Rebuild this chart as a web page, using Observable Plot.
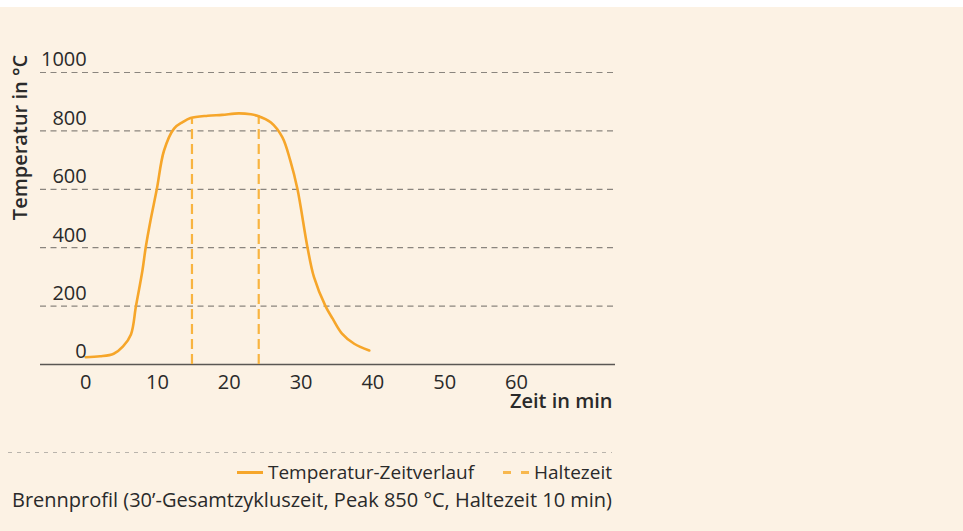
<!DOCTYPE html>
<html>
<head>
<meta charset="utf-8">
<script src="https://cdn.jsdelivr.net/npm/d3@7"></script>
<script src="https://cdn.jsdelivr.net/npm/@observablehq/plot@0.6"></script>
<style>
  html, body { margin: 0; padding: 0; background: #ffffff; }
  #wrap { position: relative; margin-top: 7px; width: 963px; height: 524px; background: #fcf2e4;
          font-family: "Open Sans", "Noto Sans", sans-serif; color: #2a2a2a; overflow: hidden; }
  #chart { position: absolute; left: 0; top: 0; }
  #sep { position: absolute; left: 8px; top: 445px; width: 604px; height: 1px;
         background: repeating-linear-gradient(to right, #b9b4ac 0 4px, transparent 4px 9px); }
  #legend { position: absolute; right: 351px; top: 452px; display: flex; align-items: center;
            font-size: 19px; line-height: 26px; white-space: nowrap; }
  .sw { display: inline-block; width: 26px; height: 3px; margin-right: 5px; }
  .sw.solid { background: #f6a62a; }
  .sw.dash { margin-left: 29px; background: linear-gradient(to right, #f8b84e 0 8px, transparent 8px 18px, #f8b84e 18px 26px); }
  #caption { position: absolute; right: 351px; top: 480px; font-size: 20px; line-height: 26px; white-space: nowrap; }
</style>
</head>
<body>
<div id="wrap">
  <div id="chart"></div>
  <div id="sep"></div>
  <div id="legend"><span class="sw solid"></span><span>Temperatur-Zeitverlauf</span><span class="sw dash"></span><span>Haltezeit</span></div>
  <div id="caption">Brennprofil (30’-Gesamtzykluszeit, Peak 850 °C, Haltezeit 10 min)</div>
</div>
<script>
// Temperature-time profile (time in min, temperature in °C)
const timeMin = [0, 2, 3.9, 5.2, 6.3, 7.0, 7.9, 8.35, 9.0, 9.9, 10.9, 12.3, 13.5, 14.6, 17, 19, 21.3, 23, 23.9, 25.8, 27.4, 28.5, 29.5, 30.9, 31.8, 33.4, 34.4, 35.7, 37.4, 39.5];
const tempC   = [25, 28, 37, 62, 103, 200, 322, 400, 490, 600, 732, 808, 830, 844, 852, 855, 860, 857, 852, 829, 778, 698, 600, 400, 299, 200, 157, 106, 71, 48];
// Haltezeit markers
const holdTimes = [14.8, 24.1];
const holdTops = [841, 852];
// Ticks
const yTicks = [0, 200, 400, 600, 800, 1000];
const xTicks = [0, 10, 20, 30, 40, 50, 60];

const curve = timeMin.map((t, i) => ({t, T: tempC[i]}));
const holds = holdTimes.map((t, i) => ({t, top: holdTops[i]}));

const orange = "#f6a62a";
const fontFamily = '"Open Sans", "Noto Sans", sans-serif';

const chart = Plot.plot({
  width: 963,
  height: 413,
  marginLeft: 40,
  marginRight: 348,
  marginTop: 65,
  marginBottom: 56,
  x: {domain: [-6.3, 73.8], axis: null},
  y: {domain: [0, 1000], axis: null},
  style: {background: "transparent", fontFamily, fontSize: "20px", color: "#2a2a2a", overflow: "visible"},
  marks: [
    Plot.ruleY(yTicks.filter(d => d > 0), {stroke: "#8a857e", strokeWidth: 1.2, strokeDasharray: "6,4.5"}),
    Plot.ruleY([0], {stroke: "#5a5753", strokeWidth: 1.6}),
    Plot.ruleX(holds, {x: "t", y1: 0, y2: "top", stroke: "#f8b440", strokeWidth: 2.2, strokeDasharray: "10,5"}),
    Plot.line(curve, {x: "t", y: "T", curve: "catmull-rom", stroke: orange, strokeWidth: 2.6}),
    Plot.text(yTicks, {x: 0, y: d => d, text: d => String(d), textAnchor: "end", dx: 1, dy: -12.5, fontSize: 20, fill: "#2a2a2a"}),
    Plot.text(xTicks, {x: d => d, y: 0, text: d => String(d), dy: 18, fontSize: 20, fill: "#2a2a2a"}),
    Plot.text(["Zeit in min"], {frameAnchor: "bottom-right", textAnchor: "end", dx: -3, dy: 43, fontSize: 20, fontWeight: 600, fill: "#2a2a2a"}),
    Plot.text(["Temperatur in °C"], {frameAnchor: "left", rotate: -90, textAnchor: "middle", dx: -20, dy: -81, fontSize: 20, fontWeight: 600, fill: "#2a2a2a"})
  ]
});
document.getElementById("chart").appendChild(chart);
</script>
</body>
</html>
